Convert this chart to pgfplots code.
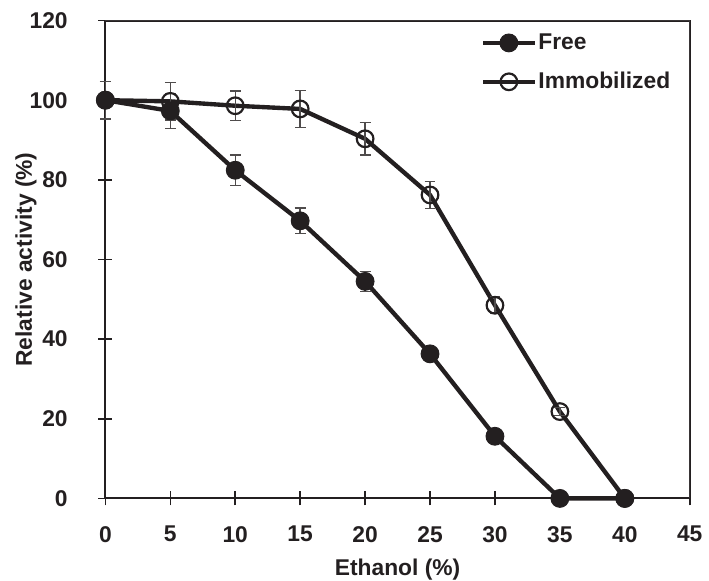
\documentclass[border=0pt]{standalone}
\usepackage{pgfplots}
\pgfplotsset{compat=1.18}
\usepackage{fontspec}
\setmainfont{Liberation Sans}
\definecolor{ink}{RGB}{35,31,32}
\pgfplotstableread{
x y e
0 100 4.7
5 97.3 4.4
10 82.4 3.8
15 69.7 3.2
20 54.5 2.5
25 36.3 1.0
30 15.6 0.8
35 0 0
40 0 0
}\freedata
\pgfplotstableread{
x y e
0 100 4.7
5 99.7 4.7
10 98.6 3.7
15 97.8 4.6
20 90.3 4.1
25 76.2 3.4
30 48.5 2.1
35 21.8 1.0
40 0 0
}\immdata
\pgfplotsset{myerr/.style={
 error bars/y dir=both, error bars/y explicit,
 error bars/error bar style={line width=0.7bp, ink!80},
 error bars/error mark options={rotate=90, mark size=2.75bp, line width=0.7bp, ink!80}}}
\begin{document}
\begin{tikzpicture}
\begin{axis}[
 scale only axis, width=294.7bp, height=241bp,
 axis lines=box,
 xmin=0, xmax=45, ymin=0, ymax=120,
 xtick={0,5,...,45}, ytick={0,20,...,120},
 xtick pos=left, ytick pos=left,
 tick align=center, major tick length=7bp,
 axis line style={line width=1bp, ink},
 tick style={line width=0.8bp, ink},
 ticklabel style={font=\fontsize{11.5bp}{13bp}\selectfont\bfseries, text=ink},
 /pgf/number format/assume math mode=true,
 xticklabel style={yshift=-7bp},
 yticklabel style={xshift=-12bp},
 every axis x label/.style={at={(axis description cs:0.5,-0.150)}, anchor=center},
 every axis y label/.style={at={(axis description cs:-0.136,0.5)}, rotate=90, anchor=center},
 xlabel={Ethanol (\%)}, ylabel={Relative activity (\%)},
 label style={font=\fontsize{11.5bp}{13bp}\selectfont\bfseries, text=ink, inner sep=0pt},
 clip=false,
 reverse legend,
 legend image code/.code={\draw[mark repeat=2,mark phase=2,#1] plot coordinates {(0bp,0bp) (13bp,0bp) (26bp,0bp)};},
 legend style={draw=none, fill=none, at={(axis description cs:0.642,0.912)}, anchor=west,
   inner sep=0pt, row sep=10bp, font=\fontsize{11.5bp}{13bp}\selectfont\bfseries, text=ink,
   nodes={inner xsep=0.8bp, inner ysep=0pt}},
 legend cell align=left,
]
\addplot[ink, line width=2.2bp, mark=o, mark size=4.2bp, mark options={line width=1.1bp, ink}, myerr]
  table[x=x, y=y, y error=e] {\immdata};
\addlegendentry{Immobilized}
\addplot[ink, line width=2.2bp, mark=*, mark size=4.5bp, mark options={fill=ink, draw=ink, line width=0.5bp}, myerr]
  table[x=x, y=y, y error=e] {\freedata};
\addlegendentry{Free}
\draw[line width=0.7bp, ink!90] (rel axis cs:0,1) -- (rel axis cs:1,1) -- (rel axis cs:1,0);
\path (rel axis cs:0,0) ++(-53.15bp,-41.65bp);
\path (rel axis cs:1,1) ++(6.65bp,10.35bp);
\end{axis}
\end{tikzpicture}
\end{document}
